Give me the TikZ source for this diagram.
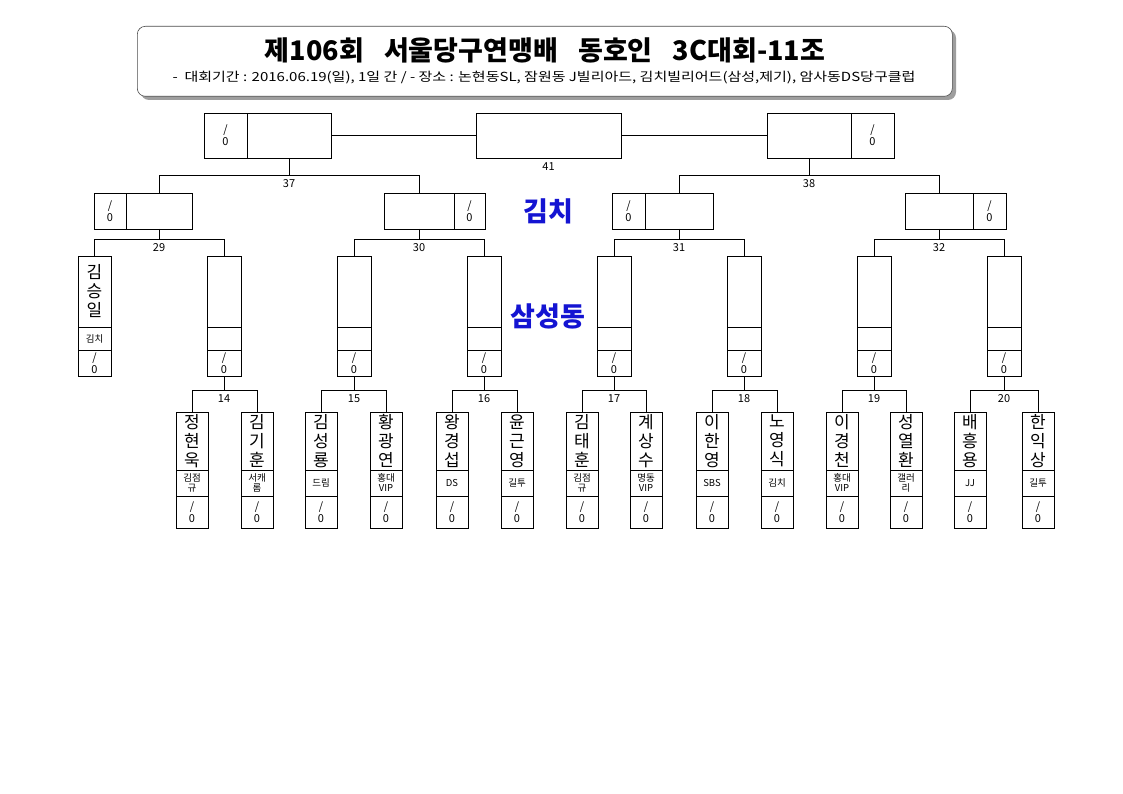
\documentclass[tikz,border=0pt]{standalone}
\usepackage{fontspec}
\setmainfont{Noto Sans CJK KR}
\usetikzlibrary{calc}
\definecolor{kblue}{RGB}{20,20,210}
\newcommand{\bracketmatch}[5]{%
  \draw[conn] (#2.north) -- (#2.north |- 0,#4) -- (#3.north |- 0,#4) -- (#3.north);
  \draw[conn] (#1.south) -- (#1.south |- 0,#4);
  \node[numlab] (lab#5) at (#1.south |- 0,#4) {#5};
}
\begin{document}
\begin{tikzpicture}[x=1pt,y=-1pt,
  bx/.style={draw=black, line width=0.75pt, inner sep=0pt, outer sep=0pt, anchor=north west, align=center},
  namec/.style={bx, font=\fontsize{17}{19}\selectfont},
  clubc/.style={bx, font=\fontsize{9.5}{10}\selectfont},
  scorec/.style={bx, font=\fontsize{11}{12}\selectfont},
  numlab/.style={anchor=north, inner sep=0pt, yshift=-4.5pt, font=\fontsize{11}{11}\selectfont},
  conn/.style={line width=0.75pt},
  bluelab/.style={text=kblue, font=\bfseries\fontsize{27}{27}\selectfont}
]
\useasboundingbox (0,0) rectangle (1123,794);
\fill[white] (0,0) rectangle (1123,794);

% title block
\fill[black!38, rounded corners=8pt] (141,30) rectangle (956,100);
\node[draw=black!70, line width=0.6pt, fill=white, rounded corners=8pt, minimum width=815pt, minimum height=70pt, anchor=north west, inner sep=0pt] (tbox) at (137,26) {};
\node[font=\bfseries\fontsize{27}{27}\selectfont, inner sep=0pt] (ttl) at (545,50) {제106회\hspace{14pt} 서울당구연맹배\hspace{14pt} 동호인\hspace{14pt} 3C대회-11조};
\node[inner sep=0pt] (sub) at (544,78) {\scalebox{1.2}[1]{\fontsize{12.5}{13}\selectfont -\ \ 대회기간 : 2016.06.19(일), 1일 간 / - 장소 : 논현동SL, 잠원동 J빌리아드, 김치빌리어드(삼성,제기), 암사동DS당구클럽}};

% round 1 (bottom row)
\foreach \i/\x/\nm/\cl in {1/176/{정\\현\\욱}/{김점\\규}, 2/241/{김\\기\\훈}/{서캐\\롬},
  3/305/{김\\성\\룡}/드림, 4/370/{황\\광\\연}/{홍대\\VIP}, 5/436/{왕\\경\\섭}/DS,
  6/501/{윤\\근\\영}/길투, 7/566/{김\\태\\훈}/{김점\\규}, 8/630/{계\\상\\수}/{명동\\VIP},
  9/696/{이\\한\\영}/SBS, 10/761/{노\\영\\식}/김치, 11/826/{이\\경\\천}/{홍대\\VIP},
  12/890/{성\\열\\환}/{갤러\\리}, 13/954/{배\\흥\\용}/JJ, 14/1022/{한\\익\\상}/길투}{
  \node[namec, minimum width=32pt, minimum height=58pt] (pn\i) at (\x,412) {\nm};
  \node[clubc, minimum width=32pt, minimum height=26pt] (pc\i) at (pn\i.south west) {\cl};
  \node[scorec, minimum width=32pt, minimum height=32pt] (ps\i) at (pc\i.south west) {/\\0};
}

% round 2
\node[namec, minimum width=33pt, minimum height=71pt] (rn1) at (78,256) {김\\승\\일};
\node[clubc, minimum width=33pt, minimum height=23pt] (rc1) at (rn1.south west) {김치};
\node[scorec, minimum width=33pt, minimum height=26pt] (rs1) at (rc1.south west) {/\\0};
\foreach \i/\x in {2/207,3/337,4/467,5/597,6/727,7/857,8/987}{
  \node[namec, minimum width=34pt, minimum height=71pt] (rn\i) at (\x,256) {};
  \node[clubc, minimum width=34pt, minimum height=23pt] (rc\i) at (rn\i.south west) {};
  \node[scorec, minimum width=34pt, minimum height=26pt] (rs\i) at (rc\i.south west) {/\\0};
}

% round 3
\node[scorec, minimum width=32pt, minimum height=36pt] (qs1) at (94,193) {/\\0};
\node[bx, minimum width=66pt, minimum height=36pt] (qm1) at (qs1.north east) {};
\node[bx, minimum width=70pt, minimum height=36pt] (qm2) at (384,193) {};
\node[scorec, minimum width=31pt, minimum height=36pt] (qs2) at (qm2.north east) {/\\0};
\node[scorec, minimum width=33pt, minimum height=36pt] (qs3) at (612,193) {/\\0};
\node[bx, minimum width=68pt, minimum height=36pt] (qm3) at (qs3.north east) {};
\node[bx, minimum width=68pt, minimum height=36pt] (qm4) at (905,193) {};
\node[scorec, minimum width=33pt, minimum height=36pt] (qs4) at (qm4.north east) {/\\0};

% semifinals and final
\node[scorec, minimum width=43pt, minimum height=45pt] (ss1) at (204,113) {/\\0};
\node[bx, minimum width=84pt, minimum height=45pt] (sm1) at (ss1.north east) {};
\node[bx, minimum width=84pt, minimum height=45pt] (sm2) at (767,113) {};
\node[scorec, minimum width=43pt, minimum height=45pt] (ss2) at (sm2.north east) {/\\0};
\node[bx, minimum width=145pt, minimum height=45pt] (fin) at (476,113) {};

\draw[conn] (sm1.east) -- (fin.west);
\draw[conn] (fin.east) -- (sm2.west);
\node[numlab] (lab41) at (fin.south) {41};

% brackets
\bracketmatch{sm1}{qm1}{qm2}{175}{37}
\bracketmatch{sm2}{qm3}{qm4}{175}{38}
\bracketmatch{qm1}{rn1}{rn2}{239}{29}
\bracketmatch{qm2}{rn3}{rn4}{239}{30}
\bracketmatch{qm3}{rn5}{rn6}{239}{31}
\bracketmatch{qm4}{rn7}{rn8}{239}{32}
\bracketmatch{rs2}{pn1}{pn2}{390}{14}
\bracketmatch{rs3}{pn3}{pn4}{390}{15}
\bracketmatch{rs4}{pn5}{pn6}{390}{16}
\bracketmatch{rs5}{pn7}{pn8}{390}{17}
\bracketmatch{rs6}{pn9}{pn10}{390}{18}
\bracketmatch{rs7}{pn11}{pn12}{390}{19}
\bracketmatch{rs8}{pn13}{pn14}{390}{20}

% blue labels
\node[bluelab] (kimchi) at (548,211) {김치};
\node[bluelab] (samsung) at (548,316) {삼성동};
\end{tikzpicture}
\end{document}
